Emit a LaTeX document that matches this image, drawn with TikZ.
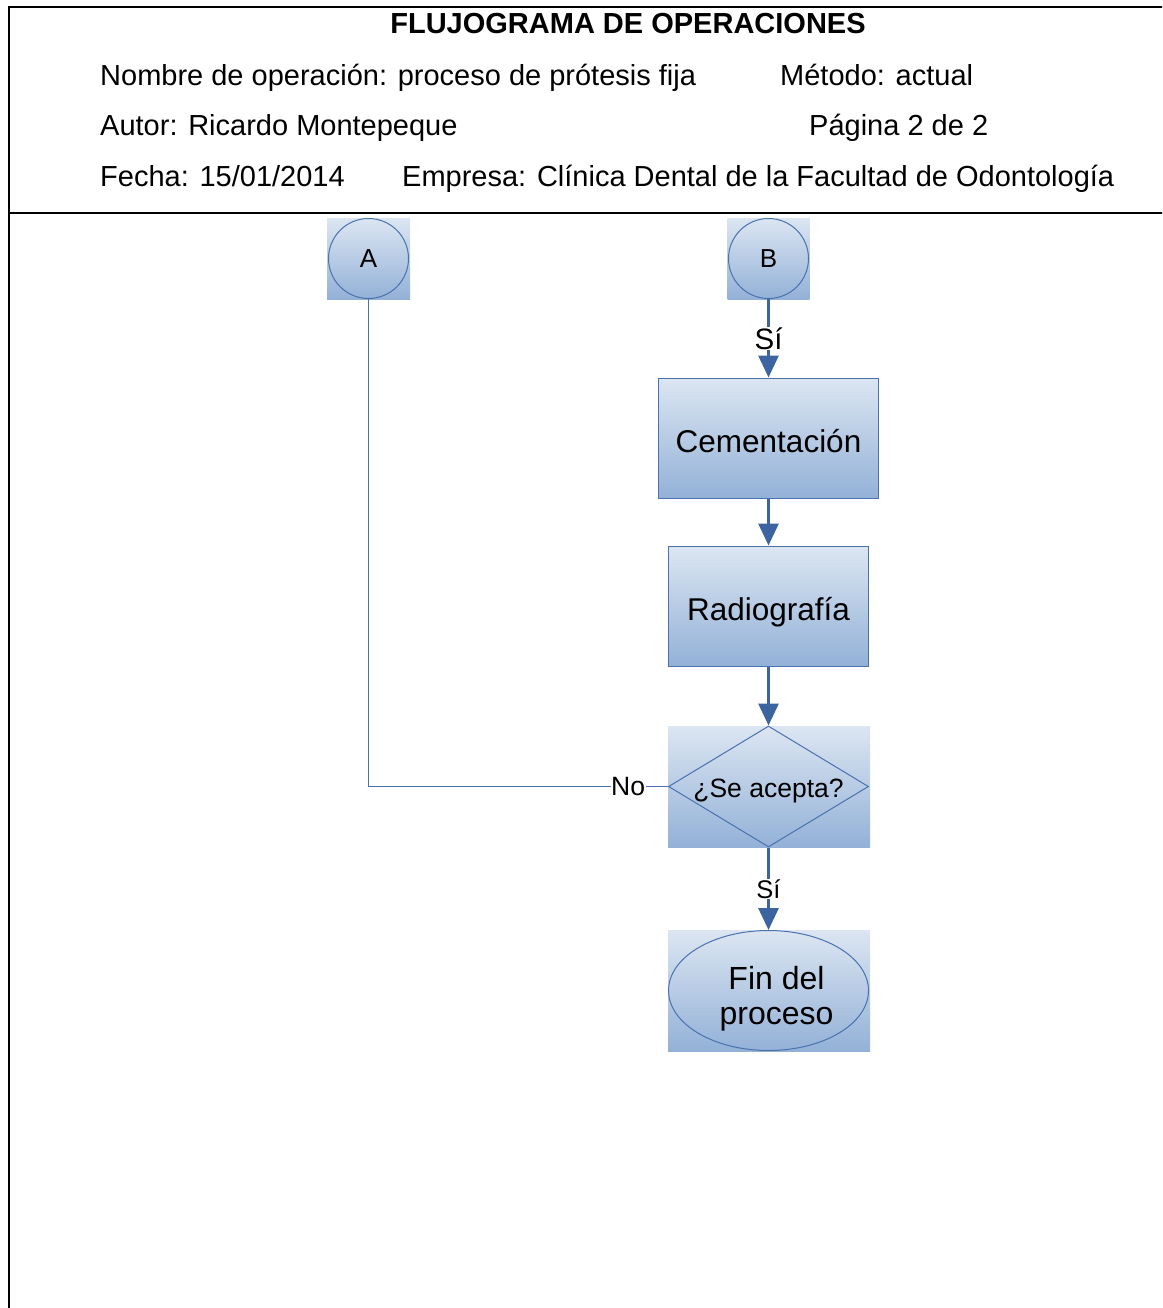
\documentclass[tikz,border=0pt]{standalone}
\usepackage{fontspec}
\setmainfont{Liberation Sans}
\usetikzlibrary{shapes.geometric,arrows.meta}

\definecolor{gradtop}{HTML}{DCE6F2}
\definecolor{gradbot}{HTML}{93B1D7}
\definecolor{shapeline}{HTML}{4A72AE}
\definecolor{flowcol}{HTML}{3B64A0}

\tikzset{
  hdr/.style={anchor=base west, inner sep=0pt, font=\fontsize{29}{34}\selectfont},
  gradbox/.style={rectangle, inner sep=0pt, top color=gradtop, bottom color=gradbot, draw=none},
  stepbox/.style={gradbox, draw=shapeline, line width=1pt, text height=28pt, text depth=0pt,
                  font=\fontsize{31.5}{36}\selectfont},
  outline/.style={draw=shapeline, line width=1pt, inner sep=0pt},
  flow/.style={draw=flowcol, line width=3pt, -{Triangle[width=20pt,length=22pt]}},
  thinflow/.style={draw=shapeline, line width=1pt},
  lbl/.style={fill=white, inner sep=0.5pt}
}

\begin{document}
\begin{tikzpicture}[x=1pt,y=-1pt]
\useasboundingbox (0,0) rectangle (1162,1308);
\clip (0,0) rectangle (1162,1308);

% sheet frame and header separator
\draw[line width=2pt] (9,1320) -- (9,7) -- (1175,7);
\draw[line width=2pt] (9,213) -- (1175,213);

% header texts
\node[anchor=base, inner sep=0pt, font=\bfseries\fontsize{29}{34}\selectfont] (title) at (628,34) {FLUJOGRAMA DE OPERACIONES};
\node[hdr] (nombre) at (100,86) {Nombre de operación: proceso de prótesis fija};
\node[hdr] (metodo) at (780,86) {Método: actual};
\node[hdr] (autor) at (100,136) {Autor: Ricardo Montepeque};
\node[hdr] (pagina) at (809,136) {Página 2 de 2};
\node[hdr] (fecha) at (100,186) {Fecha: 15/01/2014};
\node[hdr] (empresa) at (402,186) {Empresa: Clínica Dental de la Facultad de Odontología};

% connectors A and B
\node[gradbox, minimum width=83pt, minimum height=81pt] (Abox) at (368.5,258.5) {};
\node[outline, circle, minimum size=80pt, text height=18pt, text depth=0pt,
      font=\fontsize{26}{30}\selectfont] (A) at (Abox) {A};
\node[gradbox, minimum width=82pt, minimum height=81pt] (Bbox) at (768.5,258.5) {};
\node[outline, circle, minimum size=80pt, text height=18pt, text depth=0pt,
      font=\fontsize{26}{30}\selectfont] (B) at (Bbox) {B};

% process steps
\node[stepbox, minimum width=220pt, minimum height=120pt] (cem) at (768.5,438) {Cementación};
\node[stepbox, minimum width=200pt, minimum height=120pt] (rad) at (768.5,606) {Radiografía};

% decision
\node[gradbox, minimum width=202pt, minimum height=121pt] (decbox) at (769,786.5) {};
\node[outline, diamond, aspect=1.65, minimum width=200pt, minimum height=121pt,
      text height=21pt, text depth=0pt,
      font=\fontsize{26.5}{30}\selectfont] (dec) at (768.5,786.5) {¿Se acepta?};

% end of process
\node[gradbox, minimum width=202pt, minimum height=121pt] (finbox) at (769,990.5) {};
\node[outline, ellipse, minimum width=200pt, minimum height=120pt, align=center,
      font=\fontsize{32}{35}\selectfont] (fin) at (768.5,990.5)
      {\rule{0pt}{39pt}\hspace*{16pt}Fin del\\\hspace*{16pt}proceso};

% flow lines
\draw[flow] (Bbox.south) -- node[lbl, font=\fontsize{29.5}{32}\selectfont]{Sí} (cem.north);
\draw[flow] (cem.south) -- (rad.north);
\draw[flow] (rad.south) -- (dec.north);
\draw[flow] (dec.south) -- node[lbl, font=\fontsize{25.5}{28}\selectfont]{Sí} (fin.north);
\draw[thinflow] (dec.west) -- node[lbl, pos=0.133, font=\fontsize{26.5}{30}\selectfont]{No} (Abox.south |- dec.west) -- (Abox.south);
\end{tikzpicture}
\end{document}
